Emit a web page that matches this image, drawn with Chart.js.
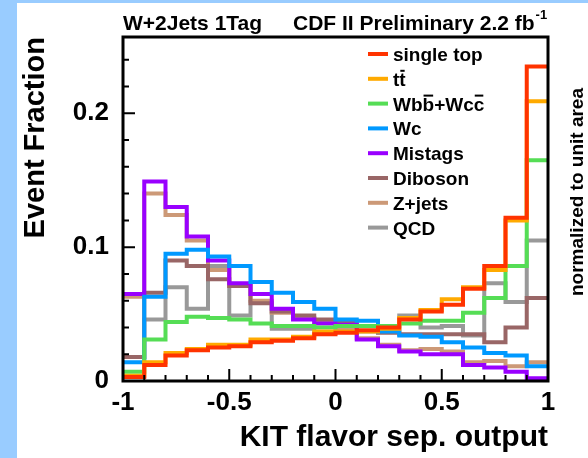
<!DOCTYPE html>
<html>
<head>
<meta charset="utf-8">
<script src="https://cdn.jsdelivr.net/npm/chart.js@4.4.1/dist/chart.umd.min.js"></script>
<style>
  html, body { margin: 0; padding: 0; background: #fff; }
  #wrap { width: 588px; height: 458px; }
</style>
</head>
<body>
<div id="wrap"><canvas id="fracChart" width="588" height="458"></canvas></div>
<script>
// lower bin edges of the KIT flavor separator output, last edge at 1
const binLow = [-1.0, -0.9, -0.8, -0.7, -0.6, -0.5, -0.4, -0.3, -0.2, -0.1,
                0.0, 0.1, 0.2, 0.3, 0.4, 0.5, 0.6, 0.7, 0.8, 0.9];
const binTop = 1.0;

const xTickValues = [-1, -0.5, 0, 0.5, 1];
const yTickValues = [0, 0.1, 0.2];

// per-bin event fractions, each template normalized to unit area
const singleTop = [0.003, 0.012, 0.019, 0.023, 0.025, 0.026, 0.029, 0.030, 0.032, 0.035,
                   0.036, 0.038, 0.040, 0.046, 0.052, 0.057, 0.069, 0.086, 0.122, 0.235];
const ttbar     = [0.004, 0.014, 0.021, 0.024, 0.027, 0.027, 0.031, 0.031, 0.033, 0.037,
                   0.037, 0.037, 0.039, 0.047, 0.053, 0.061, 0.070, 0.083, 0.120, 0.209];
const wbbWcc    = [0.007, 0.031, 0.044, 0.048, 0.047, 0.046, 0.043, 0.041, 0.041, 0.040,
                   0.041, 0.041, 0.041, 0.043, 0.045, 0.045, 0.051, 0.062, 0.086, 0.165];
const wc        = [0.014, 0.063, 0.095, 0.098, 0.093, 0.086, 0.074, 0.066, 0.059, 0.054,
                   0.046, 0.045, 0.037, 0.034, 0.033, 0.029, 0.025, 0.021, 0.019, 0.011];
const mistags   = [0.065, 0.149, 0.130, 0.108, 0.090, 0.073, 0.065, 0.054, 0.046, 0.043,
                   0.042, 0.031, 0.026, 0.022, 0.020, 0.020, 0.012, 0.010, 0.007, 0.002];
const diboson   = [0.018, 0.066, 0.090, 0.086, 0.076, 0.071, 0.058, 0.052, 0.049, 0.046,
                   0.044, 0.041, 0.036, 0.035, 0.035, 0.035, 0.035, 0.029, 0.040, 0.062];
const zJets     = [0.063, 0.140, 0.124, 0.105, 0.083, 0.071, 0.060, 0.051, 0.047, 0.044,
                   0.040, 0.032, 0.027, 0.023, 0.024, 0.022, 0.014, 0.015, 0.011, 0.014];
const qcd       = [0.018, 0.046, 0.070, 0.054, 0.086, 0.049, 0.059, 0.039, 0.039, 0.036,
                   0.038, 0.037, 0.037, 0.049, 0.040, 0.041, 0.034, 0.073, 0.059, 0.105];

// \u0305 marks an overlined letter (anti-quark)
const sampleNames  = ['single top', 'tt\u0305', 'Wbb\u0305+Wcc\u0305', 'Wc',
                      'Mistags', 'Diboson', 'Z+jets', 'QCD'];
const sampleValues = [singleTop, ttbar, wbbWcc, wc, mistags, diboson, zJets, qcd];
const sampleColors = ['#ff3300', '#ffaa00', '#55dd55', '#0099ff',
                      '#9900ff', '#996666', '#cc9977', '#999999'];

const FONT = '"Liberation Sans", Arial, Helvetica, sans-serif';

// step outline: one point per lower edge plus the closing edge
function histPoints(vals) {
  const pts = binLow.map((x, i) => ({ x: x, y: vals[i] }));
  pts.push({ x: binTop, y: vals[vals.length - 1] });
  return pts;
}

const datasets = sampleNames.map((name, i) => ({
  label: name,
  data: histPoints(sampleValues[i]),
  borderColor: sampleColors[i],
  backgroundColor: sampleColors[i],
  borderWidth: 4,
  stepped: 'before',
  pointRadius: 0,
  fill: false,
  borderJoinStyle: 'miter',
  borderCapStyle: 'butt'
}));

// page background with the light blue strips
const backdrop = {
  id: 'backdrop',
  beforeDraw(chart) {
    const ctx = chart.ctx;
    ctx.save();
    ctx.fillStyle = '#99ccff';
    ctx.fillRect(0, 0, chart.width, chart.height);
    ctx.fillStyle = '#ffffff';
    ctx.fillRect(17, 3, chart.width - 17, chart.height - 3);
    ctx.restore();
  }
};

// frame and inward tick marks
const frame = {
  id: 'frame',
  afterDatasetsDraw(chart) {
    const { ctx, chartArea: a, scales: { x, y } } = chart;
    ctx.save();
    ctx.strokeStyle = '#000';
    ctx.lineWidth = 2;
    ctx.beginPath();
    for (let v = -1; v <= 1.0001; v += 0.1) {
      const px = x.getPixelForValue(v);
      const major = Math.abs(v * 2 - Math.round(v * 2)) < 1e-6;
      ctx.moveTo(px, a.bottom);
      ctx.lineTo(px, a.bottom - (major ? 12 : 6));
    }
    for (let v = 0; v <= y.max + 1e-6; v += 0.02) {
      const py = y.getPixelForValue(v);
      const major = Math.abs(v * 10 - Math.round(v * 10)) < 1e-6;
      ctx.moveTo(a.left, py);
      ctx.lineTo(a.left + (major ? 12 : 6), py);
    }
    ctx.stroke();
    ctx.lineWidth = 3;
    ctx.strokeRect(a.left, a.top, a.right - a.left, a.bottom - a.top);
    ctx.restore();
  }
};

// draws a label, putting a bar over letters followed by \u0305
function barredText(ctx, text, x, y) {
  const plain = text.replace(/\u0305/g, '');
  ctx.fillText(plain, x, y);
  let pos = 0;
  for (let i = 0; i < text.length; i++) {
    if (text[i] === '\u0305') continue;
    if (text[i + 1] === '\u0305') {
      const before = ctx.measureText(plain.slice(0, pos)).width;
      const w = ctx.measureText(plain[pos]).width;
      ctx.fillRect(x + before + 1, y - 16, w - 2, 2);
    }
    pos++;
  }
}

const annotations = {
  id: 'annotations',
  afterDraw(chart) {
    const ctx = chart.ctx;
    ctx.save();
    ctx.fillStyle = '#000';
    ctx.textBaseline = 'alphabetic';
    ctx.font = 'bold 21px ' + FONT;
    ctx.fillText('W+2Jets 1Tag', 123, 30);
    const cdf = 'CDF II Preliminary 2.2 fb';
    ctx.fillText(cdf, 293, 30);
    const w = ctx.measureText(cdf).width;
    ctx.font = 'bold 13px ' + FONT;
    ctx.fillText('-1', 293 + w + 1, 19);

    // legend
    ctx.font = 'bold 19px ' + FONT;
    sampleNames.forEach((name, i) => {
      const cy = 54 + i * 24.8;
      ctx.fillStyle = sampleColors[i];
      ctx.fillRect(368, cy - 2, 20, 4);
      ctx.fillStyle = '#000';
      barredText(ctx, name, 393, cy + 7);
    });

    ctx.translate(578, 192);
    ctx.rotate(-Math.PI / 2);
    ctx.textAlign = 'center';
    ctx.textBaseline = 'middle';
    ctx.font = 'bold 19px ' + FONT;
    ctx.fillText('normalized to unit area', 0, 0);
    ctx.restore();
  }
};

new Chart(document.getElementById('fracChart'), {
  type: 'line',
  data: { datasets: datasets },
  options: {
    responsive: false,
    animation: false,
    layout: { padding: { left: 0, top: 37, right: 40, bottom: 0 } },
    plugins: {
      legend: { display: false },
      tooltip: { enabled: false }
    },
    scales: {
      x: {
        type: 'linear',
        min: -1,
        max: 1,
        border: { display: false },
        grid: { display: false, drawTicks: false },
        afterBuildTicks: s => { s.ticks = xTickValues.map(v => ({ value: v })); },
        afterFit: s => { s.height = 77; },
        ticks: {
          color: '#000',
          padding: 6,
          maxRotation: 0,
          font: { family: FONT, size: 26, weight: 'bold' },
          callback: v => String(v)
        },
        title: {
          display: true,
          text: 'KIT flavor sep. output',
          align: 'end',
          color: '#000',
          padding: { top: 0, bottom: 2 },
          font: { family: FONT, size: 30, weight: 'bold' }
        }
      },
      y: {
        min: 0,
        max: 0.257,
        border: { display: false },
        grid: { display: false, drawTicks: false },
        afterBuildTicks: s => { s.ticks = yTickValues.map(v => ({ value: v })); },
        afterFit: s => { s.width = 123; },
        ticks: {
          color: '#000',
          padding: 14,
          font: { family: FONT, size: 26, weight: 'bold' },
          callback: v => String(v)
        },
        title: {
          display: true,
          text: 'Event Fraction',
          align: 'end',
          color: '#000',
          padding: { top: 19, bottom: 0 },
          font: { family: FONT, size: 29, weight: 'bold' }
        }
      }
    }
  },
  plugins: [backdrop, frame, annotations]
});
</script>
</body>
</html>
